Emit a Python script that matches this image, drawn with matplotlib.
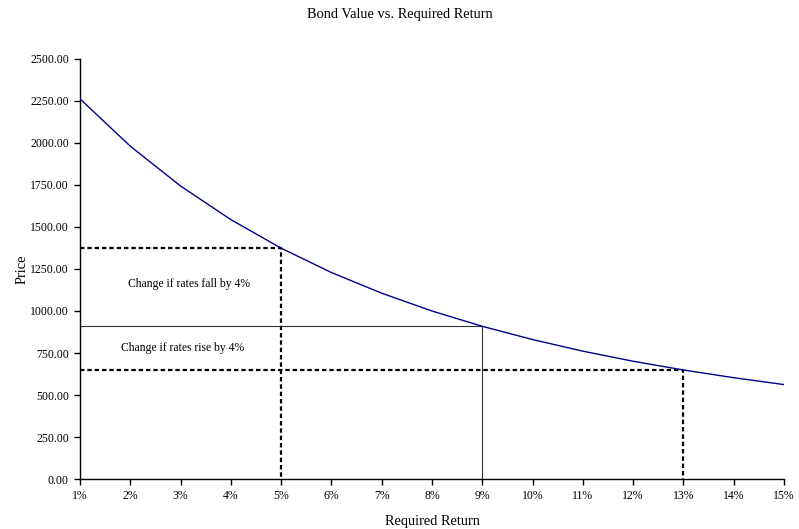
import matplotlib
matplotlib.use("Agg")
import matplotlib.pyplot as plt
from matplotlib.ticker import FuncFormatter

plt.rcParams['font.family'] = ['Liberation Serif', 'DejaVu Serif']

# data
rates = [1, 2, 3, 4, 5, 6, 7, 8, 9, 10, 11, 12, 13, 14, 15]
prices = [2263, 1981, 1744, 1544, 1374, 1229, 1106, 1000, 909,
          830, 761, 701, 649, 603, 562]

base_rate, base_price = 9, 909
fall_rate, fall_price = 5, 1374
rise_rate, rise_price = 13, 649

fig = plt.figure(figsize=(7.99, 5.29), dpi=100)
ax = fig.add_axes([0.1001, 0.0945, 0.8811, 0.794])

ax.plot(rates, prices, color='#00008b', lw=1.0, zorder=3)

# guide lines
dash = (0, (2, 1.3))
ax.plot([1, fall_rate, fall_rate], [fall_price, fall_price, 0],
        color='black', lw=1.6, ls=dash, zorder=2)
ax.plot([1, base_rate, base_rate], [base_price, base_price, 0],
        color='#333333', lw=0.8, zorder=2)
ax.plot([1, rise_rate, rise_rate], [rise_price, rise_price, 0],
        color='black', lw=1.6, ls=dash, zorder=2)

ax.text(3.17, 1160, 'Change if rates fall by 4%', ha='center', va='center', fontsize=8.4)
ax.text(3.04, 779, 'Change if rates rise by 4%', ha='center', va='center', fontsize=8.4)

ax.set_xlim(1, 15)
ax.set_ylim(0, 2500)
ax.set_xticks(rates)
ax.set_yticks(range(0, 2501, 250))
ax.xaxis.set_major_formatter(FuncFormatter(lambda v, p: f'{v:.0f}%'))
ax.yaxis.set_major_formatter(FuncFormatter(lambda v, p: f'{v:.2f}'))
ax.tick_params(direction='out', length=4, width=1, labelsize=8.5, pad=4)

for s in ['top', 'right']:
    ax.spines[s].set_visible(False)
for s in ['left', 'bottom']:
    ax.spines[s].set_linewidth(1)

ax.set_xlabel('Required Return', fontsize=10.4, labelpad=9)
ax.set_ylabel('Price', fontsize=10.4, labelpad=1)
fig.text(0.5, 0.972, 'Bond Value vs. Required Return', ha='center', va='center', fontsize=10.4)

fig.savefig('out.png', dpi=100)
